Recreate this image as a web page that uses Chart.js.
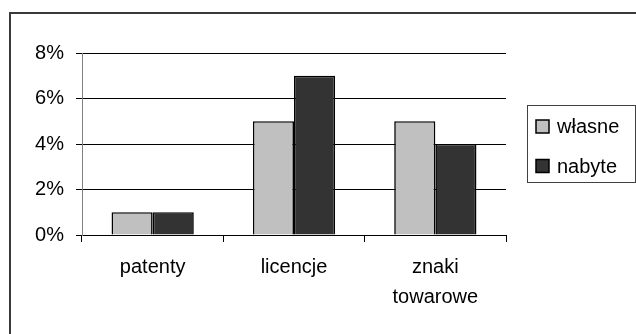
<!DOCTYPE html>
<html>
<head>
<meta charset="utf-8">
<script src="https://cdn.jsdelivr.net/npm/chart.js@4/dist/chart.umd.min.js"></script>
<style>
  html, body { margin: 0; padding: 0; background: #fff; }
  #wrap { position: relative; width: 636px; height: 334px; }
  canvas { display: block; }
</style>
</head>
<body>
<div id="wrap"><canvas id="c" width="636" height="334"></canvas></div>
<script>
// Categories and series (values in percent)
const categories = ['patenty', 'licencje', ['znaki', 'towarowe']];
const seriesNames = ['własne', 'nabyte'];
const wlasne = [1, 5, 5];
const nabyte = [1, 7, 4];
const yTickValues = [0, 2, 4, 6, 8];

const seriesColors = ['#C0C0C0', '#333333'];
const FONT = '"Liberation Sans", Arial, sans-serif';

// Frame around the chart (top and left edges) plus white background
const framePlugin = {
  id: 'frame',
  beforeDraw(chart) {
    const ctx = chart.ctx;
    ctx.save();
    ctx.fillStyle = '#fff';
    ctx.fillRect(0, 0, chart.width, chart.height);
    ctx.strokeStyle = '#3a3a3a';
    ctx.lineWidth = 2;
    ctx.beginPath();
    ctx.moveTo(10, chart.height + 2);
    ctx.lineTo(10, 13);
    ctx.lineTo(chart.width + 2, 13);
    ctx.stroke();
    ctx.restore();
  }
};

// Boxed legend on the right, built from the datasets
const boxLegend = {
  id: 'boxLegend',
  afterDraw(chart) {
    const ctx = chart.ctx;
    ctx.save();
    ctx.strokeStyle = '#404040';
    ctx.lineWidth = 1;
    ctx.strokeRect(527.5, 105.5, 108, 77);
    const rows = [126.5, 166];
    chart.data.datasets.forEach((ds, i) => {
      const cy = rows[i];
      ctx.fillStyle = ds.backgroundColor;
      ctx.fillRect(536, cy - 6.5, 13, 13);
      ctx.strokeStyle = '#000';
      ctx.lineWidth = 1.5;
      ctx.strokeRect(536, cy - 6.5, 13, 13);
      ctx.fillStyle = '#000';
      ctx.font = '20px ' + FONT;
      ctx.textBaseline = 'middle';
      ctx.textAlign = 'left';
      ctx.fillText(ds.label, 557, cy + 1);
    });
    ctx.restore();
  }
};

new Chart(document.getElementById('c'), {
  type: 'bar',
  data: {
    labels: categories,
    datasets: [
      { label: seriesNames[0], data: wlasne, backgroundColor: seriesColors[0], borderColor: '#000', borderWidth: 1.6 },
      { label: seriesNames[1], data: nabyte, backgroundColor: seriesColors[1], borderColor: '#000', borderWidth: 1.6 }
    ]
  },
  options: {
    responsive: false,
    animation: false,
    devicePixelRatio: 1,
    layout: { padding: { left: 0, top: 53, right: 130, bottom: 0 } },
    datasets: { bar: { barPercentage: 1, categoryPercentage: 0.582 } },
    plugins: { legend: { display: false }, tooltip: { enabled: false } },
    scales: {
      x: {
        grid: { offset: true, drawOnChartArea: false, drawTicks: true, tickLength: 7, color: '#000' },
        border: { color: '#000', width: 1 },
        ticks: {
          color: '#000',
          font: { family: FONT, size: 20, lineHeight: 1.5 },
          padding: 10,
          maxRotation: 0
        },
        afterFit(s) { s.height = 99; }
      },
      y: {
        min: 0, max: 8,
        afterBuildTicks(s) { s.ticks = yTickValues.map(v => ({ value: v })); },
        grid: { color: '#000', lineWidth: 1, tickLength: 6 },
        border: { color: '#808080', width: 1 },
        ticks: {
          color: '#000',
          font: { family: FONT, size: 20 },
          padding: 12,
          callback: v => v + '%'
        },
        afterFit(s) { s.width = 82; }
      }
    }
  },
  plugins: [framePlugin, boxLegend]
});
</script>
</body>
</html>
